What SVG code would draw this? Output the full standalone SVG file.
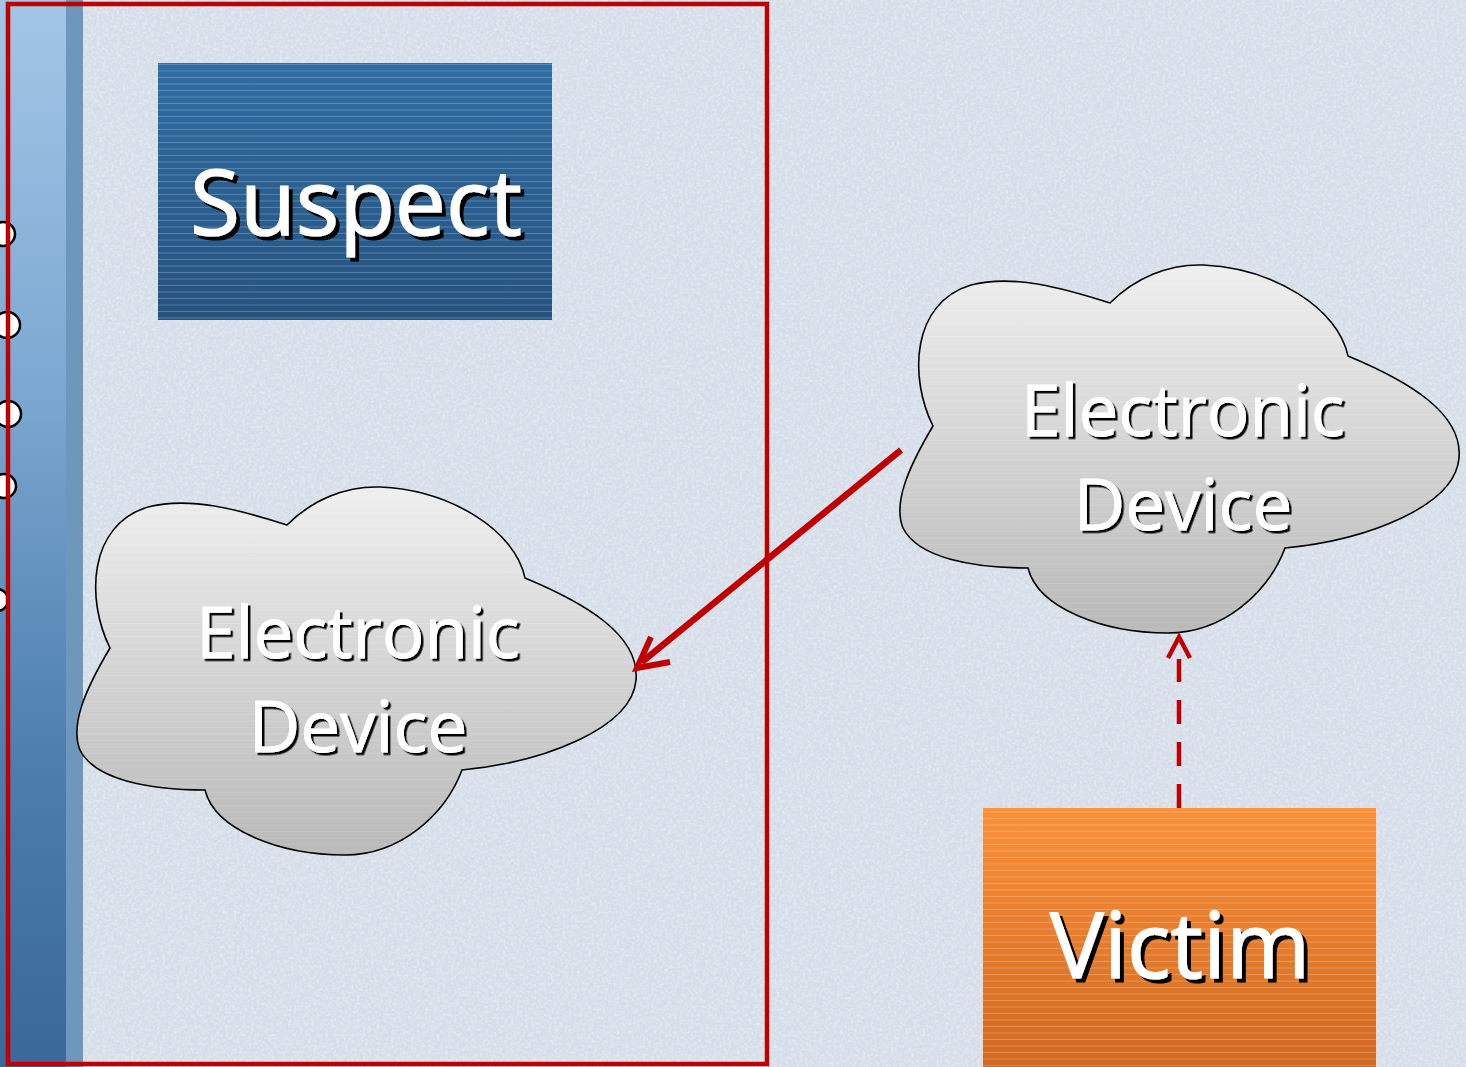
<svg xmlns="http://www.w3.org/2000/svg" width="1466" height="1067" viewBox="0 0 1466 1067">
<style>
.lbl{font-family:"Open Sans","Noto Sans","Liberation Sans",sans-serif;fill:#ffffff;stroke:#ffffff;text-anchor:middle}
.big{font-size:91px;stroke-width:1.2;filter:url(#sh4)}
.cl{font-size:71px;stroke-width:0.8;filter:url(#sh2)}
.cloud{fill:url(#gCloud);stroke:#000;stroke-width:1.6}
.lines{fill:url(#pLines)}
.conn{stroke:#c00000;fill:none;stroke-linecap:butt}
.ring{fill:#fff;stroke:#000;stroke-width:2.5}
</style>
<defs>
<filter id="sh4" x="-10%" y="-20%" width="130%" height="150%"><feDropShadow dx="4" dy="4" stdDeviation="0.3" flood-color="#000" flood-opacity="1"/></filter>
<filter id="sh2" x="-10%" y="-20%" width="130%" height="150%"><feDropShadow dx="2.5" dy="2.5" stdDeviation="0.3" flood-color="#000" flood-opacity="1"/></filter>
<filter id="noise" x="0" y="0" width="100%" height="100%">
<feTurbulence type="fractalNoise" baseFrequency="0.35" numOctaves="3" seed="4" result="n"/>
<feColorMatrix in="n" type="matrix" values="0 0 0 0 1  0 0 0 0 1  0 0 0 0 1  0 0 0 1.4 -0.55" result="w"/>
<feComposite in="w" in2="SourceGraphic" operator="in"/>
</filter>
<linearGradient id="gBlue" x1="0" y1="0" x2="0" y2="1"><stop offset="0" stop-color="#2f6da3"/><stop offset="1" stop-color="#25527f"/></linearGradient>
<linearGradient id="gOrange" x1="0" y1="0" x2="0" y2="1"><stop offset="0" stop-color="#fc913a"/><stop offset="1" stop-color="#d0681f"/></linearGradient>
<linearGradient id="gCloud" x1="0" y1="0" x2="0" y2="1"><stop offset="0" stop-color="#efefef"/><stop offset="1" stop-color="#b9b9b9"/></linearGradient>
<linearGradient id="gStrip" x1="0" y1="0" x2="0" y2="1"><stop offset="0" stop-color="#a3c6e6"/><stop offset="0.35" stop-color="#7ea9d2"/><stop offset="0.72" stop-color="#4c7dad"/><stop offset="1" stop-color="#3a6898"/></linearGradient>
<pattern id="pLines" width="10" height="6.5" patternUnits="userSpaceOnUse"><rect x="0" y="5.5" width="10" height="1" fill="#ffffff" fill-opacity="0.22"/></pattern>
<path id="cloudShape" d="M110,648 C86,600 88,525 148,507 C190,496 240,510 287,525 C312,500 345,486 380,487 C450,490 515,530 525,578 C585,603 640,635 636,680 C632,728 545,762 462,770 C445,815 400,855 345,855 C280,855 215,830 205,790 C150,790 95,780 80,750 C70,725 85,690 110,648 Z"/>
</defs>

<rect x="0" y="0" width="1466" height="1067" fill="#d5dee9"/>
<rect x="0" y="0" width="1466" height="1067" fill="#d5dee9" filter="url(#noise)" opacity="0.55"/>

<g id="sidebar">
<rect x="0" y="0" width="66" height="1067" fill="url(#gStrip)"/>
<rect x="66" y="0" width="17" height="1067" fill="#6d97bb"/>
<circle class="ring" cx="3" cy="234" r="12"/>
<circle class="ring" cx="7" cy="325" r="13"/>
<circle class="ring" cx="8" cy="414" r="13"/>
<circle class="ring" cx="4" cy="486" r="12"/>
<circle class="ring" cx="-3" cy="600" r="11"/>
</g>

<g id="suspect-zone">
<rect x="8" y="4" width="759" height="1060" fill="none" stroke="#c00000" stroke-width="4.5"/>
</g>

<g id="suspect">
<rect x="158" y="63" width="394" height="257" fill="url(#gBlue)"/>
<rect x="158" y="63" width="394" height="257" class="lines"/>
<text class="lbl big" x="356" y="235">Suspect</text>
</g>

<g id="device-suspect">
<use href="#cloudShape" class="cloud"/>
<use href="#cloudShape" class="lines" opacity="0.5"/>
<text class="lbl cl" x="358" y="658">Electronic</text>
<text class="lbl cl" x="358" y="752">Device</text>
</g>

<g id="device-victim" transform="translate(823,-222)">
<use href="#cloudShape" class="cloud"/>
<use href="#cloudShape" class="lines" opacity="0.5"/>
<text class="lbl cl" x="360" y="658">Electronic</text>
<text class="lbl cl" x="360" y="752">Device</text>
</g>

<g id="victim">
<rect x="983" y="808" width="393" height="262" fill="url(#gOrange)"/>
<rect x="983" y="808" width="393" height="262" class="lines"/>
<text class="lbl big" x="1180" y="978">Victim</text>
</g>

<g id="connectors">
<line class="conn" x1="901" y1="450" x2="642" y2="662" stroke-width="6.5"/>
<polyline class="conn" points="651,637 637,668 670,662" stroke-width="6"/>
<line class="conn" x1="1179" y1="808" x2="1179" y2="659" stroke-width="4.5" stroke-dasharray="24 18"/>
<polyline class="conn" points="1168,658 1179,637 1190,658" stroke-width="4.5"/>
</g>
</svg>
